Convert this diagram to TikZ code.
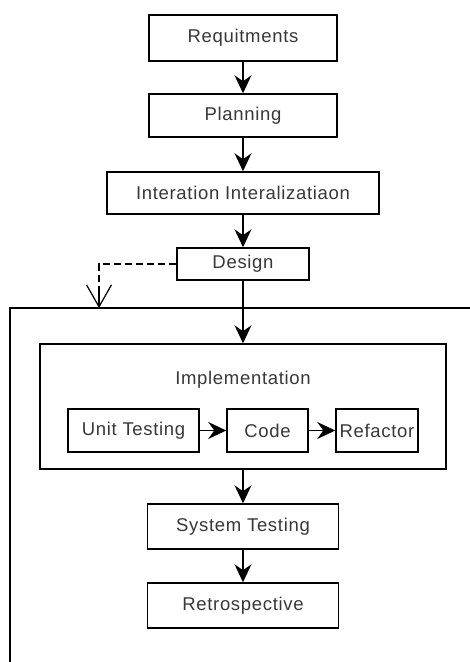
\documentclass[tikz,border=0pt]{standalone}
\usepackage{fontspec}
\setmainfont[LetterSpace=3.7]{Liberation Sans}
\usetikzlibrary{arrows.meta}
\begin{document}
\begin{tikzpicture}[x=1pt,y=-1pt,
  box/.style={draw=black, line width=1.5pt, fill=white, inner sep=0pt,
    text=black!78, font=\fontsize{18.5}{20}\selectfont},
  flow/.style={line width=1.5pt, -{Stealth[length=18pt,width=17pt,inset=6pt]}},
  frame/.style={line width=1.5pt},
  ref/.style={line width=1.2pt, dash pattern=on 7pt off 4pt}]
\useasboundingbox (0,0) rectangle (470,662);
\fill[white] (0,0) rectangle (470,662);

% main column of steps
\node[box, minimum width=188pt, minimum height=46pt] (req) at (243,38) {Requitments};
\node[box, minimum width=188pt, minimum height=43pt] (plan) at (243,115.5) {Planning};
\node[box, minimum width=272pt, minimum height=42pt] (iter) at (243,193) {Interation Interalizatiaon};
\node[box, minimum width=132pt, minimum height=32pt] (design) at (243,264) {Design};

% surrounding frame of the iteration
\coordinate (fr) at (470,308);
\coordinate (fl) at (10,308);
\coordinate (fb) at (10,662);
\draw[frame] (fr) -- (fl) -- (fb);

% implementation block with its inner cycle
\node[box, minimum width=406pt, minimum height=125pt] (impl) at (243,406.5) {};
\node[text=black!78, font=\fontsize{18.5}{20}\selectfont] (impltitle) at (243,380) {Implementation};
\node[box, minimum width=131pt, minimum height=43pt] (unit) at (133.5,430.5) {Unit Testing};
\node[box, minimum width=81pt, minimum height=43pt] (code) at (267.5,430.5) {Code};
\node[box, minimum width=82pt, minimum height=43pt] (refac) at (377,430.5) {Refactor};

\node[box, minimum width=191pt, minimum height=45pt] (sys) at (243,526.5) {System Testing};
\node[box, minimum width=191pt, minimum height=45pt] (retro) at (243,605.5) {Retrospective};

% connectors
\draw[flow] (req) -- (plan);
\draw[flow] (plan) -- (iter);
\draw[flow] (iter) -- (design);
\draw[flow] (design) -- (impl);
\draw[flow] (unit) -- (code);
\draw[flow] (code) -- (refac);
\draw[flow] (impl) -- (sys);
\draw[flow] (sys) -- (retro);

% dashed reference from design to the frame
\coordinate (dref) at (99,308);
\draw[ref] (design.west) -| (dref);
\draw[line width=1.2pt, -{Straight Barb[length=22pt,width=25pt]}] (99,290) -- (dref);
\end{tikzpicture}
\end{document}
